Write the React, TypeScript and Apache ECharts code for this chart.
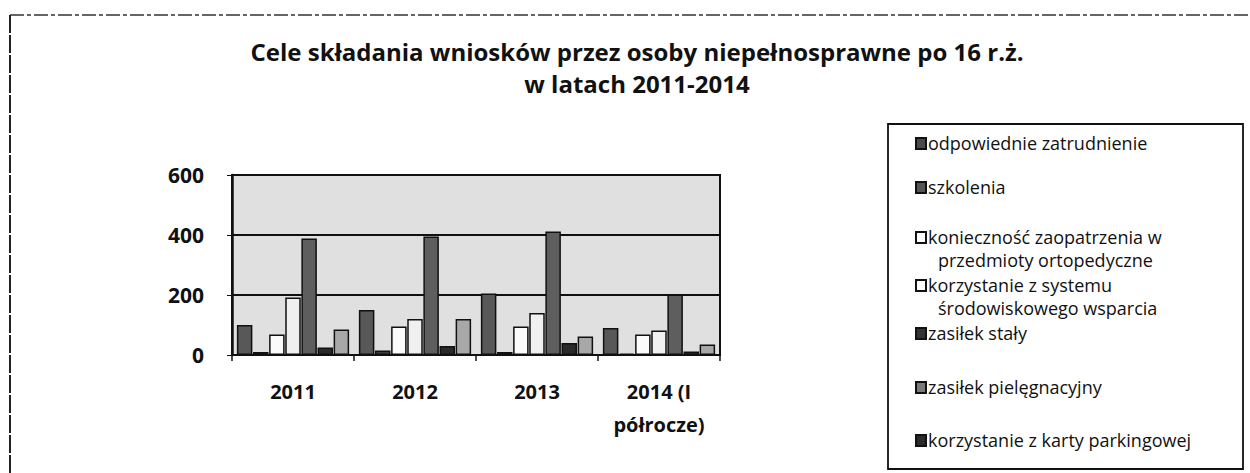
import React, { useEffect, useRef } from "react";
import * as echarts from "echarts";

const categories = ["2011", "2012", "2013", "2014 (I\npółrocze)"];
const seriesNames = [
  "odpowiednie zatrudnienie",
  "szkolenia",
  "konieczność zaopatrzenia w przedmioty ortopedyczne",
  "korzystanie z systemu środowiskowego wsparcia",
  "zasiłek stały",
  "zasiłek pielęgnacyjny",
  "korzystanie z karty parkingowej",
];
const legendLabels = [
  ["odpowiednie zatrudnienie"],
  ["szkolenia"],
  ["konieczność zaopatrzenia w", "przedmioty ortopedyczne"],
  ["korzystanie z systemu", "środowiskowego wsparcia"],
  ["zasiłek stały"],
  ["zasiłek pielęgnacyjny"],
  ["korzystanie z karty parkingowej"],
];
const zatrudnienie = [100, 150, 205, 90];
const szkolenia = [10, 15, 10, 5];
const koniecznosc = [68, 95, 95, 68];
const system = [192, 120, 140, 82];
const zasilekStaly = [388, 395, 412, 202];
const zasilekPiel = [25, 30, 40, 12];
const parking = [85, 120, 62, 35];
const seriesValues = [zatrudnienie, szkolenia, koniecznosc, system, zasilekStaly, zasilekPiel, parking];
const yTicks = [0, 200, 400, 600];

const barColors = ["#585858", "#3c3c3c", "#fbfbfb", "#f0f0f0", "#5e5e5e", "#2a2a2a", "#a8a8a8"];
const legendColors = ["#4a4a4a", "#555555", "#ffffff", "#ffffff", "#333333", "#7a7a7a", "#2a2a2a"];
const legendY = [143, 187, 237, 285, 333, 387, 440];

const FONT = "'Open Sans', 'DejaVu Sans', sans-serif";

export default function App() {
  const ref = useRef<HTMLDivElement>(null);
  useEffect(() => {
    if (!ref.current) return;
    document.body.style.margin = "0";
    const chart = echarts.init(ref.current, null, { renderer: "svg" });
    const gridLeft = 232;
    const gridRight = 720;
    const gridTop = 175;
    const gridBottom = 355;
    const option: any = {
      animation: false,
      backgroundColor: "#ffffff",
      title: {
        text: "Cele składania wniosków przez osoby niepełnosprawne po 16 r.ż.\nw latach 2011-2014",
        left: 632,
        top: 30,
        textAlign: "center",
        textStyle: {
          fontFamily: FONT,
          fontWeight: "bold",
          fontSize: 24,
          lineHeight: 32,
          color: "#111",
        },
      },
      grid: {
        left: gridLeft,
        top: gridTop,
        width: gridRight - gridLeft,
        height: gridBottom - gridTop,
        show: true,
        backgroundColor: "#e0e0e0",
        borderColor: "#111",
        borderWidth: 2,
      },
      xAxis: {
        type: "category",
        data: categories,
        axisLine: { show: true, lineStyle: { color: "#111", width: 2 } },
        axisTick: { show: true, length: 6, lineStyle: { color: "#111", width: 1.5 } },
        axisLabel: {
          interval: 0,
          margin: 20,
          fontFamily: FONT,
          fontWeight: "bold",
          fontSize: 20,
          lineHeight: 33,
          color: "#111",
        },
      },
      yAxis: {
        type: "value",
        min: yTicks[0],
        max: yTicks[yTicks.length - 1],
        interval: 200,
        axisLine: { show: true, lineStyle: { color: "#111", width: 2.5 } },
        axisTick: { show: true, length: 5, lineStyle: { color: "#111" } },
        splitLine: { show: true, lineStyle: { color: "#111", width: 1.8 } },
        axisLabel: {
          margin: 28,
          fontFamily: FONT,
          fontWeight: "bold",
          fontSize: 21,
          color: "#111",
        },
      },
      series: seriesNames.map((name, i) => ({
        name,
        type: "bar",
        data: seriesValues[i],
        barGap: "4%",
        barCategoryGap: "8%",
        itemStyle: { color: barColors[i], borderColor: "#111", borderWidth: 1.5 },
      })),
    };

    const graphic: any[] = [
      { type: "line", shape: { x1: 10, y1: 15, x2: 1250, y2: 15 }, style: { stroke: "#333", lineWidth: 1.5, lineDash: [14, 3, 4, 3] } },
      { type: "line", shape: { x1: 10, y1: 15, x2: 10, y2: 473 }, style: { stroke: "#222", lineWidth: 2, lineDash: [18, 2] } },
      { type: "rect", shape: { x: 888, y: 124, width: 355, height: 345 }, style: { fill: "#fff", stroke: "#111", lineWidth: 1.8 } },
    ];
    legendLabels.forEach((lines, i) => {
      graphic.push({
        type: "rect",
        shape: { x: 916, y: legendY[i] - 5, width: 10, height: 11 },
        style: { fill: legendColors[i], stroke: "#111", lineWidth: 2 },
      });
      lines.forEach((t, j) => {
        graphic.push({
          type: "text",
          x: j === 0 ? 928 : 938,
          y: legendY[i] + j * 23,
          style: {
            text: t,
            fontFamily: FONT,
            fontSize: 18,
            lineHeight: 19,
            fill: "#111",
            verticalAlign: "middle",
          },
        });
      });
    });
    option.graphic = graphic;
    chart.setOption(option);

    return () => chart.dispose();
  }, []);
  return <div ref={ref} style={{ position: "absolute", left: 0, top: 0, width: 1250, height: 473 }} />;
}
